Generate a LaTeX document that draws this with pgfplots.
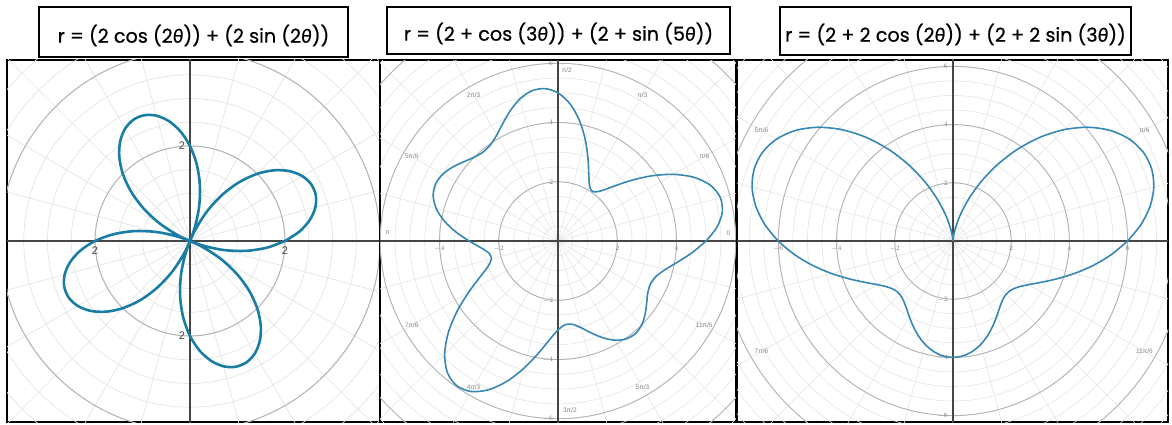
\documentclass[border=0pt]{standalone}
\usepackage{pgfplots}
\pgfplotsset{compat=1.18}
\usepackage{pgfplotstable}
\usepackage{fontspec}
\setmainfont{Poppins}
\newfontfamily\titlefont{Poppins}[FakeBold=0.7]
\newfontfamily\thetafont{Lato}[FakeBold=0.7]
\newfontfamily\lblfont{Liberation Sans}
\definecolor{curveA}{RGB}{25,125,165}
\definecolor{curveB}{RGB}{55,135,180}
\definecolor{minorg}{RGB}{228,228,228}
\definecolor{majorg}{RGB}{180,180,180}
\definecolor{axisg}{RGB}{70,70,70}
\definecolor{lblg}{RGB}{130,130,130}
\newcommand{\thet}{{\thetafont\itshape θ}}

\pgfplotstableread[row sep=\\]{
t r\\
0 2.000\\ 5 2.317\\ 10 2.563\\ 15 2.732\\ 20 2.818\\ 25 2.818\\ 30 2.732\\ 35 2.563\\ 40 2.317\\ 45 2.000\\
50 1.622\\ 55 1.195\\ 60 0.732\\ 65 0.247\\ 70 -0.247\\ 75 -0.732\\ 80 -1.195\\ 85 -1.622\\ 90 -2.000\\
95 -2.317\\ 100 -2.563\\ 105 -2.732\\ 110 -2.818\\ 115 -2.818\\ 120 -2.732\\ 125 -2.563\\ 130 -2.317\\
135 -2.000\\ 140 -1.622\\ 145 -1.195\\ 150 -0.732\\ 155 -0.247\\ 160 0.247\\ 165 0.732\\ 170 1.195\\
175 1.622\\ 180 2.000\\ 185 2.317\\ 190 2.563\\ 195 2.732\\ 200 2.818\\ 205 2.818\\ 210 2.732\\ 215 2.563\\
220 2.317\\ 225 2.000\\ 230 1.622\\ 235 1.195\\ 240 0.732\\ 245 0.247\\ 250 -0.247\\ 255 -0.732\\
260 -1.195\\ 265 -1.622\\ 270 -2.000\\ 275 -2.317\\ 280 -2.563\\ 285 -2.732\\ 290 -2.818\\ 295 -2.818\\
300 -2.732\\ 305 -2.563\\ 310 -2.317\\ 315 -2.000\\ 320 -1.622\\ 325 -1.195\\ 330 -0.732\\ 335 -0.247\\
340 0.247\\ 345 0.732\\ 350 1.195\\ 355 1.622\\ 360 2.000\\
}\tabA

\pgfplotstableread[row sep=\\]{
t r\\
0 5.000\\ 5 5.389\\ 10 5.632\\ 15 5.673\\ 20 5.485\\ 25 5.078\\ 30 4.500\\ 35 3.828\\ 40 3.158\\
45 2.586\\ 50 2.194\\ 55 2.038\\ 60 2.134\\ 65 2.461\\ 70 2.960\\ 75 3.552\\ 80 4.143\\ 85 4.648\\
90 5.000\\ 95 5.165\\ 100 5.143\\ 105 4.966\\ 110 4.692\\ 115 4.392\\ 120 4.134\\ 125 3.970\\
130 3.926\\ 135 4.000\\ 140 4.158\\ 145 4.346\\ 150 4.500\\ 155 4.560\\ 160 4.485\\ 165 4.259\\
170 3.900\\ 175 3.457\\ 180 3.000\\ 185 2.612\\ 190 2.368\\ 195 2.327\\ 200 2.515\\ 205 2.922\\
210 3.500\\ 215 4.172\\ 220 4.842\\ 225 5.414\\ 230 5.806\\ 235 5.962\\ 240 5.866\\ 245 5.540\\
250 5.040\\ 255 4.448\\ 260 3.857\\ 265 3.353\\ 270 3.000\\ 275 2.835\\ 280 2.857\\ 285 3.034\\
290 3.308\\ 295 3.608\\ 300 3.866\\ 305 4.030\\ 310 4.074\\ 315 4.000\\ 320 3.842\\ 325 3.654\\
330 3.500\\ 335 3.440\\ 340 3.515\\ 345 3.741\\ 350 4.100\\ 355 4.543\\ 360 5.000\\
}\tabB

\pgfplotstableread[row sep=\\]{
t r\\
0 6.000\\ 5 6.487\\ 10 6.879\\ 15 7.146\\ 20 7.264\\ 25 7.218\\ 30 7.000\\ 35 6.616\\ 40 6.079\\
45 5.414\\ 50 4.653\\ 55 3.834\\ 60 3.000\\ 65 2.197\\ 70 1.468\\ 75 0.854\\ 80 0.389\\ 85 0.099\\
90 0.000\\ 95 0.099\\ 100 0.389\\ 105 0.854\\ 110 1.468\\ 115 2.197\\ 120 3.000\\ 125 3.834\\
130 4.653\\ 135 5.414\\ 140 6.079\\ 145 6.616\\ 150 7.000\\ 155 7.218\\ 160 7.264\\ 165 7.146\\
170 6.879\\ 175 6.487\\ 180 6.000\\ 185 5.452\\ 190 4.879\\ 195 4.318\\ 200 3.800\\ 205 3.354\\
210 3.000\\ 215 2.752\\ 220 2.615\\ 225 2.586\\ 230 2.653\\ 235 2.798\\ 240 3.000\\ 245 3.232\\
250 3.468\\ 255 3.682\\ 260 3.853\\ 265 3.962\\ 270 4.000\\ 275 3.962\\ 280 3.853\\ 285 3.682\\
290 3.468\\ 295 3.232\\ 300 3.000\\ 305 2.798\\ 310 2.653\\ 315 2.586\\ 320 2.615\\ 325 2.752\\
330 3.000\\ 335 3.354\\ 340 3.800\\ 345 4.318\\ 350 4.879\\ 355 5.452\\ 360 6.000\\
}\tabC

\pgfplotsset{panel/.style={anchor=south west, scale only axis, xtick=\empty, ytick=\empty,
  axis line style={line width=1.8pt, black}, clip=true}}

\begin{document}
\begin{tikzpicture}
\useasboundingbox (0,0) rectangle (1172pt,424pt);

% ---------- panel 1 ----------
\begin{axis}[panel, at={(7pt,2pt)}, width=373pt, height=362pt,
  xmin=-3.853, xmax=4.0, ymin=-3.811, ymax=3.811]
\pgfplotsinvokeforeach{0.5,1,...,6}{\draw[minorg, line width=0.7pt] (axis cs:0,0) circle[radius=#1];}
\pgfplotsinvokeforeach{0,15,...,345}{\draw[minorg, line width=0.7pt] (axis cs:0,0) -- (axis cs:{8*cos(#1)},{8*sin(#1)});}
\pgfplotsinvokeforeach{2,4}{\draw[majorg, line width=1pt] (axis cs:0,0) circle[radius=#1];}
\draw[axisg, line width=2pt] (axis cs:-10,0) -- (axis cs:10,0);
\draw[axisg, line width=2pt] (axis cs:0,-10) -- (axis cs:0,10);
\addplot[curveA, line width=2.6pt, smooth, data cs=polar] table[x=t, y=r] {\tabA};
\node[font=\lblfont\fontsize{11}{11}\selectfont, text=axisg, anchor=north] at (axis cs:2,-0.04) {2};
\node[font=\lblfont\fontsize{11}{11}\selectfont, text=axisg, anchor=north] at (axis cs:-2,-0.04) {2};
\node[font=\lblfont\fontsize{11}{11}\selectfont, text=axisg, anchor=east] at (axis cs:-0.03,2) {2};
\node[font=\lblfont\fontsize{11}{11}\selectfont, text=axisg, anchor=east] at (axis cs:-0.03,-2) {2};
\end{axis}

% ---------- panel 2 ----------
\begin{axis}[panel, at={(380pt,2pt)}, width=356pt, height=362pt,
  xmin=-6.01, xmax=6.01, ymin=-6.11, ymax=6.11]
\pgfplotsinvokeforeach{0.5,1,...,9}{\draw[minorg, line width=0.6pt] (axis cs:0,0) circle[radius=#1];}
\pgfplotsinvokeforeach{0,15,...,345}{\draw[minorg, line width=0.6pt] (axis cs:0,0) -- (axis cs:{12*cos(#1)},{12*sin(#1)});}
\pgfplotsinvokeforeach{2,4,6,8}{\draw[majorg, line width=0.9pt] (axis cs:0,0) circle[radius=#1];}
\draw[axisg, line width=1.5pt] (axis cs:-10,0) -- (axis cs:10,0);
\draw[axisg, line width=1.5pt] (axis cs:0,-10) -- (axis cs:0,10);
\addplot[curveB, line width=1.6pt, smooth, data cs=polar] table[x=t, y=r] {\tabB};
\pgfplotsinvokeforeach{-4,-2,2,4}{\node[font=\lblfont\fontsize{7}{7}\selectfont, text=lblg, anchor=north] at (axis cs:#1,-0.05) {\pgfmathprintnumber{#1}};}
\pgfplotsinvokeforeach{-6,-4,-2,2,4,6}{\node[font=\lblfont\fontsize{7}{7}\selectfont, text=lblg, anchor=east] at (axis cs:-0.05,#1) {\pgfmathprintnumber{#1}};}
\node[font=\lblfont\fontsize{6.5}{6.5}\selectfont, text=lblg] at (axis cs:4.936,2.85) {π/6};
\node[font=\lblfont\fontsize{6.5}{6.5}\selectfont, text=lblg] at (axis cs:2.85,4.936) {π/3};
\node[font=\lblfont\fontsize{6.5}{6.5}\selectfont, text=lblg] at (axis cs:0.3,5.75) {π/2};
\node[font=\lblfont\fontsize{6.5}{6.5}\selectfont, text=lblg] at (axis cs:-2.85,4.936) {2π/3};
\node[font=\lblfont\fontsize{6.5}{6.5}\selectfont, text=lblg] at (axis cs:-4.936,2.85) {5π/6};
\node[font=\lblfont\fontsize{6.5}{6.5}\selectfont, text=lblg] at (axis cs:-5.75,0.27) {π};
\node[font=\lblfont\fontsize{6.5}{6.5}\selectfont, text=lblg] at (axis cs:-4.936,-2.85) {7π/6};
\node[font=\lblfont\fontsize{6.5}{6.5}\selectfont, text=lblg] at (axis cs:-2.85,-4.936) {4π/3};
\node[font=\lblfont\fontsize{6.5}{6.5}\selectfont, text=lblg] at (axis cs:0.4,-5.7) {3π/2};
\node[font=\lblfont\fontsize{6.5}{6.5}\selectfont, text=lblg] at (axis cs:2.85,-4.936) {5π/3};
\node[font=\lblfont\fontsize{6.5}{6.5}\selectfont, text=lblg] at (axis cs:4.936,-2.85) {11π/6};
\node[font=\lblfont\fontsize{6.5}{6.5}\selectfont, text=lblg] at (axis cs:5.75,0.27) {0};
\end{axis}

% ---------- panel 3 ----------
\begin{axis}[panel, at={(737pt,2pt)}, width=431pt, height=362pt,
  xmin=-7.42, xmax=7.39, ymin=-6.22, ymax=6.22]
\pgfplotsinvokeforeach{0.5,1,...,10}{\draw[minorg, line width=0.6pt] (axis cs:0,0) circle[radius=#1];}
\pgfplotsinvokeforeach{0,15,...,345}{\draw[minorg, line width=0.6pt] (axis cs:0,0) -- (axis cs:{12*cos(#1)},{12*sin(#1)});}
\pgfplotsinvokeforeach{2,4,6,8}{\draw[majorg, line width=0.9pt] (axis cs:0,0) circle[radius=#1];}
\draw[axisg, line width=1.5pt] (axis cs:-10,0) -- (axis cs:10,0);
\draw[axisg, line width=1.5pt] (axis cs:0,-10) -- (axis cs:0,10);
\addplot[curveB, line width=1.6pt, smooth, data cs=polar] table[x=t, y=r] {\tabC};
\pgfplotsinvokeforeach{-6,-4,-2,2,4,6}{\node[font=\lblfont\fontsize{7}{7}\selectfont, text=lblg, anchor=north] at (axis cs:#1,-0.05) {\pgfmathprintnumber{#1}};}
\pgfplotsinvokeforeach{-6,-4,-2,2,4,6}{\node[font=\lblfont\fontsize{7}{7}\selectfont, text=lblg, anchor=east] at (axis cs:-0.05,#1) {\pgfmathprintnumber{#1}};}
\node[font=\lblfont\fontsize{6.5}{6.5}\selectfont, text=lblg] at (axis cs:6.58,3.8) {π/6};
\node[font=\lblfont\fontsize{6.5}{6.5}\selectfont, text=lblg] at (axis cs:-6.58,3.8) {5π/6};
\node[font=\lblfont\fontsize{6.5}{6.5}\selectfont, text=lblg] at (axis cs:-6.58,-3.8) {7π/6};
\node[font=\lblfont\fontsize{6.5}{6.5}\selectfont, text=lblg] at (axis cs:6.58,-3.8) {11π/6};
\end{axis}

% ---------- titles ----------
\draw[black, line width=1.9pt, fill=white] (39pt,367pt) rectangle (348pt,417pt);
\node[font=\titlefont\fontsize{19.2}{19.2}\selectfont] at (193.5pt,388.5pt) {r = (2 cos (2\thet)) + (2 sin (2\thet))};
\draw[black, line width=1.9pt, fill=white] (387pt,370pt) rectangle (730pt,417pt);
\node[font=\titlefont\fontsize{19.2}{19.2}\selectfont] at (558.5pt,390.5pt) {r = (2 + cos (3\thet)) + (2 + sin (5\thet))};
\draw[black, line width=1.9pt, fill=white] (780pt,369pt) rectangle (1131pt,417pt);
\node[font=\titlefont\fontsize{19.2}{19.2}\selectfont] at (955.5pt,389.5pt) {r = (2 + 2 cos (2\thet)) + (2 + 2 sin (3\thet))};
\end{tikzpicture}
\end{document}
